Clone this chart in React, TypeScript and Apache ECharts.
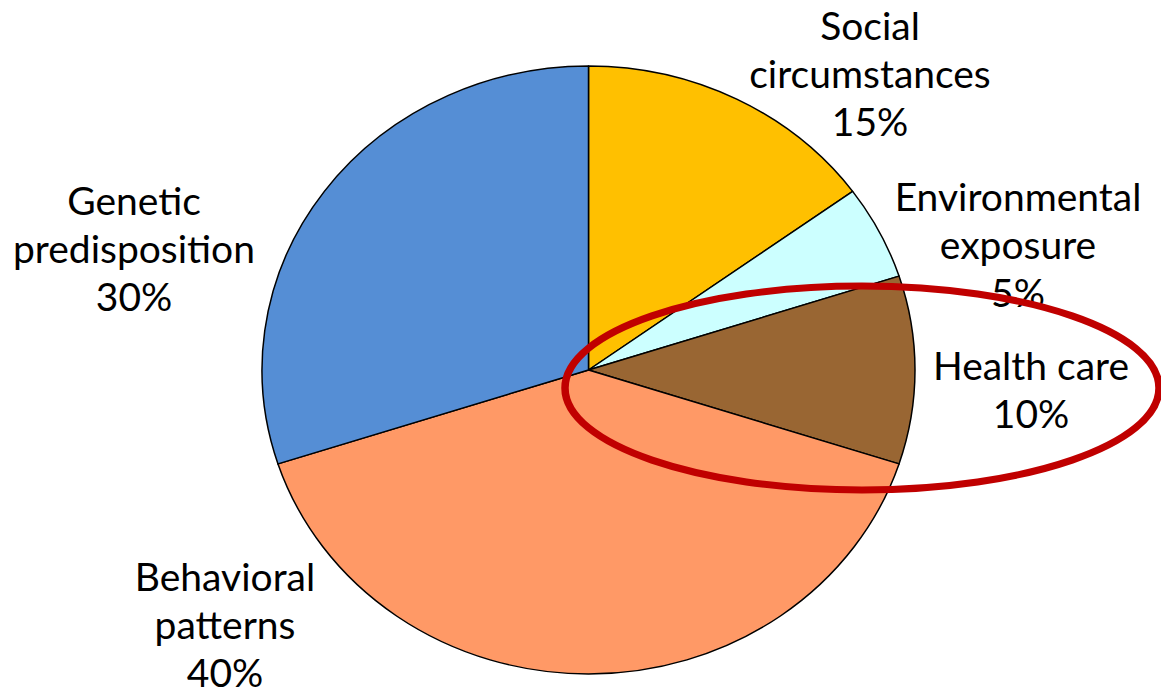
import React, { useEffect, useRef } from "react";
import * as echarts from "echarts";

// ---- data ----
const categories = [
  "Social\ncircumstances",
  "Environmental\nexposure",
  "Health care",
  "Behavioral\npatterns",
  "Genetic\npredisposition",
];
const values = [15, 5, 10, 40, 30];
const colors = ["#FFC000", "#CCFFFF", "#996633", "#FF9966", "#558ED5"];

// label anchor points (screen pixels: center x, middle of text block y)
const labelX = [870, 1018, 1031, 225, 134];
const labelY = [73, 244, 389, 624, 248];

const W = 1161;
const SCREEN_H = 691;
const RX = 326.5; // pie horizontal radius
const RY = 304; // pie vertical radius (reference pie is slightly flattened)
const S = RY / RX; // vertical squash applied to the whole chart
const H = SCREEN_H / S;

export default function App() {
  const ref = useRef<HTMLDivElement>(null);

  useEffect(() => {
    if (!ref.current) return;
    const chart = echarts.init(ref.current, undefined, { renderer: "svg" });
    const font = "Lato, 'Open Sans', sans-serif";
    const total = values.reduce((a, b) => a + b, 0);

    const labels = categories.map((c, i) => ({
      type: "text",
      x: labelX[i],
      y: labelY[i] / S,
      scaleY: 1 / S,
      z: 50,
      silent: true,
      style: {
        text: c + "\n" + Math.round((values[i] / total) * 100) + "%",
        fontFamily: font,
        fontSize: 39,
        lineHeight: 48,
        fill: "#000",
        align: "center",
        verticalAlign: "middle",
      },
    }));

    chart.setOption({
      animation: false,
      backgroundColor: "#fff",
      series: [
        {
          type: "pie",
          center: [588.5, 370 / S],
          radius: RX,
          startAngle: 90,
          clockwise: true,
          silent: true,
          label: { show: false },
          labelLine: { show: false },
          emphasis: { disabled: true },
          itemStyle: { borderColor: "#000", borderWidth: 1.5 },
          data: categories.map((c, i) => ({
            name: c,
            value: values[i],
            itemStyle: { color: colors[i] },
          })),
        },
      ],
      graphic: [
        ...labels,
        {
          type: "ellipse",
          z: 100,
          silent: true,
          shape: { cx: 862, cy: 388 / S, rx: 297, ry: 102 / S },
          style: { fill: "none", stroke: "#C00000", lineWidth: 7.5 },
        },
      ],
    });
    return () => chart.dispose();
  }, []);

  return (
    <div
      ref={ref}
      style={{
        position: "absolute",
        left: 0,
        top: 0,
        width: W,
        height: H,
        transform: `scaleY(${S})`,
        transformOrigin: "0 0",
      }}
    />
  );
}
